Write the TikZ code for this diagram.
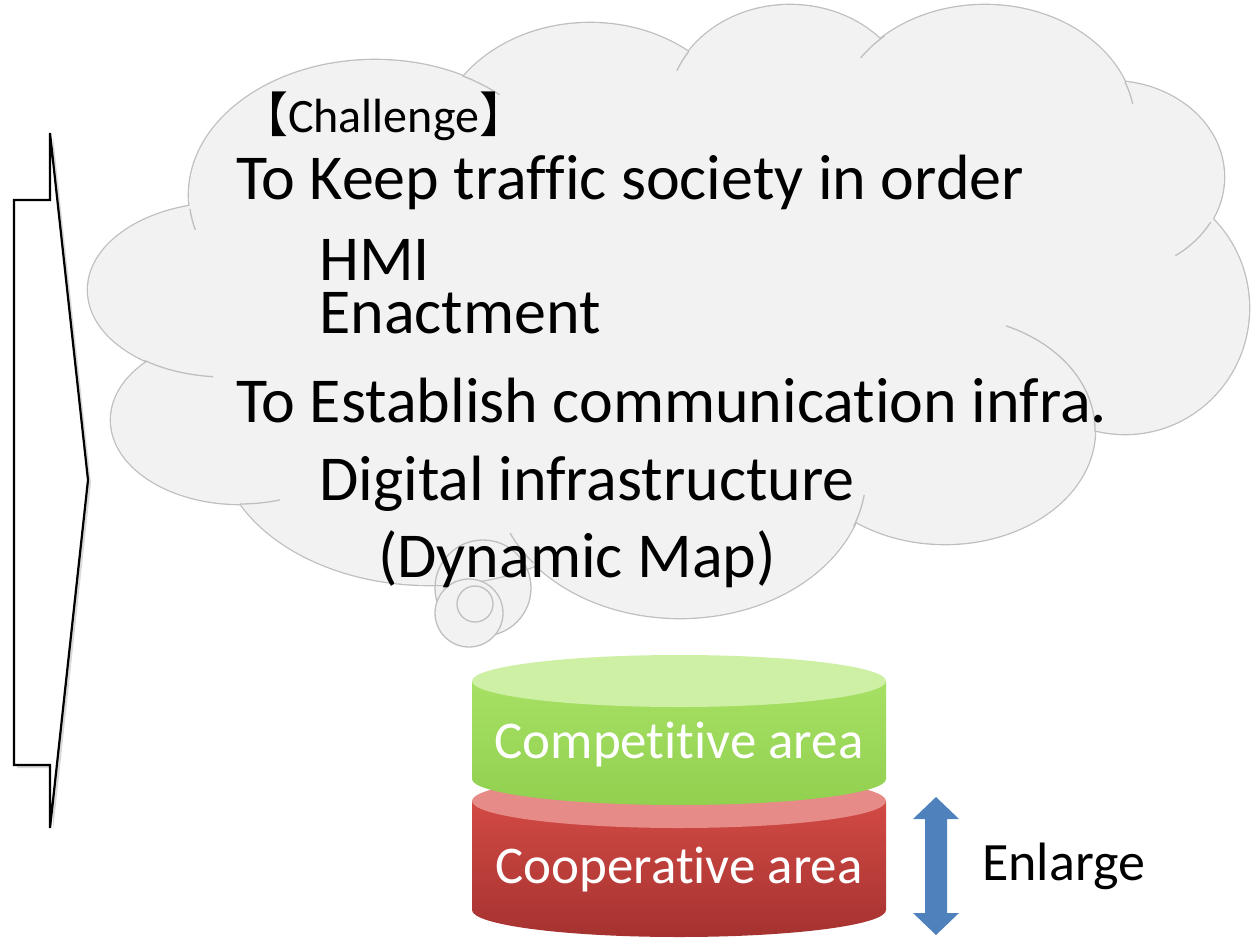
\documentclass[tikz,border=0pt]{standalone}
\usepackage{fontspec}
\setmainfont{Carlito}[Ligatures=NoCommon]
\newfontfamily\cjkfont{Noto Sans CJK JP}
\usepackage{tikz}
\usetikzlibrary{shadows}
\definecolor{cloudfill}{RGB}{242,242,242}
\definecolor{cloudedge}{RGB}{191,191,191}
\definecolor{greentop}{RGB}{205,240,164}
\definecolor{greenhi}{RGB}{166,224,100}
\definecolor{greenlo}{RGB}{146,208,80}
\definecolor{redtop}{RGB}{230,139,136}
\definecolor{redhi}{RGB}{210,74,68}
\definecolor{redlo}{RGB}{165,50,48}
\definecolor{enlargeblue}{RGB}{79,129,189}

% cloud lobes: centre x / centre y / x radius / y radius
\def\lobes{375/195/186/135, 590/150/155/127, 790/110/122/105, 985/125/150/120,
  1110/177/114/96, 1125/308/124/126, 945/430/150/114, 680/475/186/143,
  430/440/211/145, 240/420/129/84, 225/290/137/87}

\begin{document}
\begin{tikzpicture}[x=1pt, y=-1pt,
    main/.style={anchor=base west, inner sep=0pt, font=\fontsize{64}{53}\selectfont},
    head/.style={anchor=base west, inner sep=0pt, font=\fontsize{48}{48}\selectfont},
    area/.style={anchor=base, inner sep=0pt, text=white, font=\fontsize{53}{53}\selectfont},
    puff/.style={draw=cloudedge, line width=1.3pt}
]
    \useasboundingbox (0,0) rectangle (1257,941);

    % Notched arrow on the left
    \draw[fill=white, line width=2.2pt, line join=miter,
      drop shadow={shadow xshift=3pt, shadow yshift=-3pt, opacity=0.3}]
      (50,133) -- (88,480) -- (50,828) -- (50,765) -- (14,765) -- (14,200) -- (50,200) -- cycle;

    % Thought bubbles (fill)
    \fill[cloudfill] (483,588) circle[radius=48];
    \fill[cloudfill] (469,613) circle[radius=34];

    % Cloud
    \foreach \cx/\cy/\rx/\ry in \lobes
      \path[fill=cloudfill, draw=cloudedge, line width=2.6pt] (\cx,\cy) ellipse[x radius=\rx, y radius=\ry];
    \foreach \cx/\cy/\rx/\ry in \lobes
      \fill[cloudfill] (\cx,\cy) ellipse[x radius=\rx, y radius=\ry];
    \fill[cloudfill] (680,300) ellipse[x radius=420, y radius=200];
    \foreach \cx/\cy/\rx/\ry/\a/\b in {375/195/186/135/-62/-48, 375/195/186/135/174/165,
        790/110/122/105/214/202, 985/125/150/120/228/214, 985/125/150/120/-21/-10,
        1110/177/114/96/28/55, 945/430/150/114/1/-66, 680/475/186/143/21/8,
        680/475/186/143/142/156, 240/420/129/84/90/72, 225/290/137/87/126/95}
      \draw[puff] ({\cx+\rx*cos(\a)},{\cy+\ry*sin(\a)}) arc[start angle=\a, end angle=\b, x radius=\rx, y radius=\ry];

    % Thought bubbles (outline)
    \draw[puff] (483,588) circle[radius=48];
    \draw[puff, fill=cloudfill] (469,613) circle[radius=34];
    \draw[puff] (475,604) circle[radius=18];

    % Texts in the cloud
    \node[head] (chal) at (240,133) {{\cjkfont 【}Challenge{\cjkfont 】}};
    \node[main] (keep) at (236,200) {To Keep traffic society in order};
    \node[main, align=left] (hmi) at (319,333) {HMI\\Enactment};
    \node[main] (estab) at (236,422) {To Establish communication infra.};
    \node[main] (digital) at (319,500) {Digital infrastructure};
    \node[main] (dynmap) at (378,577) {(Dynamic Map)};

    % Cooperative cylinder
    \shade[top color=redhi, bottom color=redlo]
      (472,801) -- (472,910) arc[start angle=180, end angle=0, x radius=207, y radius=27] -- (886,801) -- cycle;
    \fill[redtop] (679,801) ellipse[x radius=207, y radius=27];
    % Competitive cylinder
    \shade[top color=greenhi, bottom color=greenlo]
      (472,681) -- (472,779) arc[start angle=180, end angle=0, x radius=207, y radius=26] -- (886,681) -- cycle;
    \fill[greentop] (679,681) ellipse[x radius=207, y radius=26];

    \node[area] (comp) at (679,758) {Competitive area};
    \node[area] (coop) at (679,883) {Cooperative area};

    % Enlarge
    \fill[enlargeblue] (936,797) -- (959,819) -- (947,819) -- (947,913) -- (959,913) -- (936,935)
      -- (913,913) -- (925,913) -- (925,819) -- (913,819) -- cycle;
    \node[anchor=base west, inner sep=0pt, font=\fontsize{54}{54}\selectfont] (enlarge) at (982,880) {Enlarge};
\end{tikzpicture}
\end{document}
